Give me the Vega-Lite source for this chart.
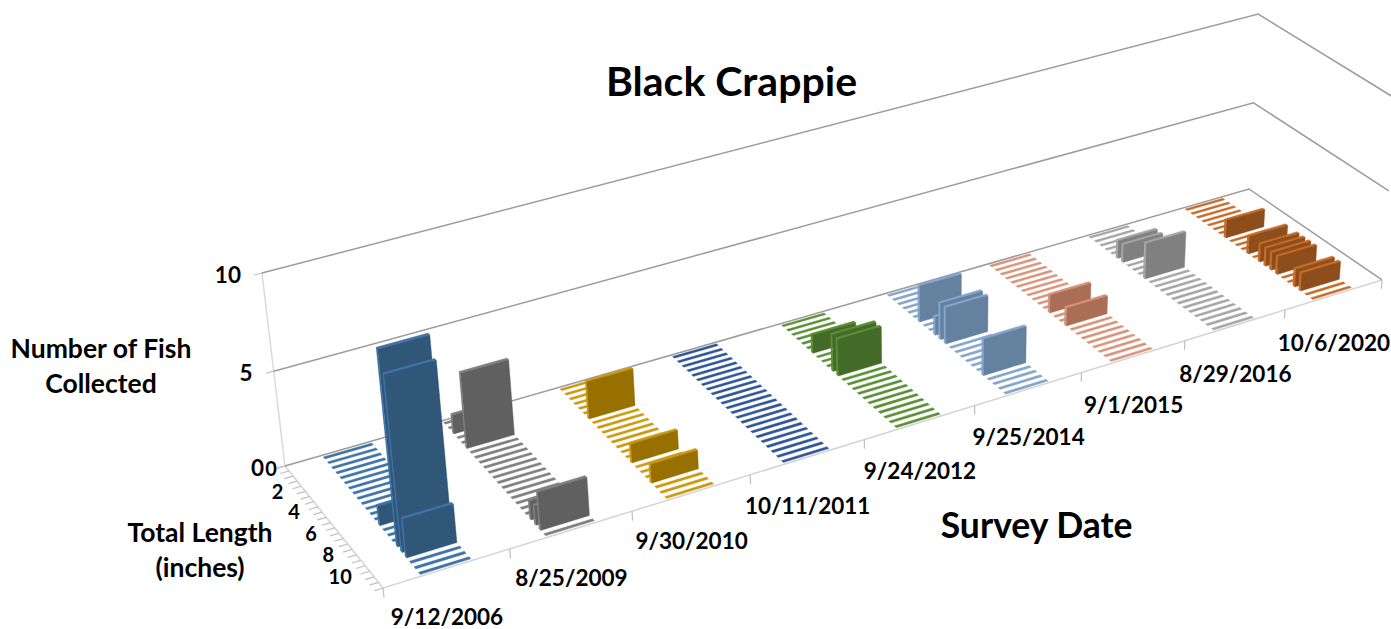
{
"$schema":"https://vega.github.io/schema/vega-lite/v6.json",
"width":1391,"height":629,"padding":0,"autosize":{"type":"none"},
"background":"white",
"view":{"stroke":null},
"title":{"text":"Black Crappie","font":"Lato","fontWeight":"bold","fontSize":41,"color":"#000000","anchor":"middle","frame":"group","dx":36,"offset":-105},
"datasets":{
"fish":[
{"date":"10/6/2020","survey":8,"length":0,"count":0},{"date":"10/6/2020","survey":8,"length":0.5,"count":0},{"date":"10/6/2020","survey":8,"length":1,"count":0},{"date":"10/6/2020","survey":8,"length":1.5,"count":0},{"date":"10/6/2020","survey":8,"length":2,"count":0},{"date":"10/6/2020","survey":8,"length":2.5,"count":0},{"date":"10/6/2020","survey":8,"length":3,"count":0},{"date":"10/6/2020","survey":8,"length":3.5,"count":1},{"date":"10/6/2020","survey":8,"length":4,"count":0},{"date":"10/6/2020","survey":8,"length":4.5,"count":0},{"date":"10/6/2020","survey":8,"length":5,"count":0},{"date":"10/6/2020","survey":8,"length":5.5,"count":1},{"date":"10/6/2020","survey":8,"length":6,"count":0},{"date":"10/6/2020","survey":8,"length":6.5,"count":1},{"date":"10/6/2020","survey":8,"length":7,"count":1},{"date":"10/6/2020","survey":8,"length":7.5,"count":1},{"date":"10/6/2020","survey":8,"length":8,"count":1},{"date":"10/6/2020","survey":8,"length":8.5,"count":0},{"date":"10/6/2020","survey":8,"length":9,"count":0},{"date":"10/6/2020","survey":8,"length":9.5,"count":1},{"date":"10/6/2020","survey":8,"length":10,"count":1},{"date":"10/6/2020","survey":8,"length":10.5,"count":0},{"date":"10/6/2020","survey":8,"length":11,"count":0},
{"date":"8/29/2016","survey":7,"length":0,"count":0},{"date":"8/29/2016","survey":7,"length":0.5,"count":0},{"date":"8/29/2016","survey":7,"length":1,"count":0},{"date":"8/29/2016","survey":7,"length":1.5,"count":0},{"date":"8/29/2016","survey":7,"length":2,"count":0},{"date":"8/29/2016","survey":7,"length":2.5,"count":1},{"date":"8/29/2016","survey":7,"length":3,"count":1},{"date":"8/29/2016","survey":7,"length":3.5,"count":0},{"date":"8/29/2016","survey":7,"length":4,"count":0},{"date":"8/29/2016","survey":7,"length":4.5,"count":0},{"date":"8/29/2016","survey":7,"length":5,"count":2},{"date":"8/29/2016","survey":7,"length":5.5,"count":0},{"date":"8/29/2016","survey":7,"length":6,"count":0},{"date":"8/29/2016","survey":7,"length":6.5,"count":0},{"date":"8/29/2016","survey":7,"length":7,"count":0},{"date":"8/29/2016","survey":7,"length":7.5,"count":0},{"date":"8/29/2016","survey":7,"length":8,"count":0},{"date":"8/29/2016","survey":7,"length":8.5,"count":0},{"date":"8/29/2016","survey":7,"length":9,"count":0},{"date":"8/29/2016","survey":7,"length":9.5,"count":0},{"date":"8/29/2016","survey":7,"length":10,"count":0},{"date":"8/29/2016","survey":7,"length":10.5,"count":0},{"date":"8/29/2016","survey":7,"length":11,"count":0},
{"date":"9/1/2015","survey":6,"length":0,"count":0},{"date":"9/1/2015","survey":6,"length":0.5,"count":0},{"date":"9/1/2015","survey":6,"length":1,"count":0},{"date":"9/1/2015","survey":6,"length":1.5,"count":0},{"date":"9/1/2015","survey":6,"length":2,"count":0},{"date":"9/1/2015","survey":6,"length":2.5,"count":0},{"date":"9/1/2015","survey":6,"length":3,"count":0},{"date":"9/1/2015","survey":6,"length":3.5,"count":0},{"date":"9/1/2015","survey":6,"length":4,"count":0},{"date":"9/1/2015","survey":6,"length":4.5,"count":0},{"date":"9/1/2015","survey":6,"length":5,"count":0},{"date":"9/1/2015","survey":6,"length":5.5,"count":1},{"date":"9/1/2015","survey":6,"length":6,"count":0},{"date":"9/1/2015","survey":6,"length":6.5,"count":0},{"date":"9/1/2015","survey":6,"length":7,"count":1},{"date":"9/1/2015","survey":6,"length":7.5,"count":0},{"date":"9/1/2015","survey":6,"length":8,"count":0},{"date":"9/1/2015","survey":6,"length":8.5,"count":0},{"date":"9/1/2015","survey":6,"length":9,"count":0},{"date":"9/1/2015","survey":6,"length":9.5,"count":0},{"date":"9/1/2015","survey":6,"length":10,"count":0},{"date":"9/1/2015","survey":6,"length":10.5,"count":0},{"date":"9/1/2015","survey":6,"length":11,"count":0},
{"date":"9/25/2014","survey":5,"length":0,"count":0},{"date":"9/25/2014","survey":5,"length":0.5,"count":0},{"date":"9/25/2014","survey":5,"length":1,"count":0},{"date":"9/25/2014","survey":5,"length":1.5,"count":0},{"date":"9/25/2014","survey":5,"length":2,"count":0},{"date":"9/25/2014","survey":5,"length":2.5,"count":0},{"date":"9/25/2014","survey":5,"length":3,"count":2},{"date":"9/25/2014","survey":5,"length":3.5,"count":0},{"date":"9/25/2014","survey":5,"length":4,"count":0},{"date":"9/25/2014","survey":5,"length":4.5,"count":1},{"date":"9/25/2014","survey":5,"length":5,"count":2},{"date":"9/25/2014","survey":5,"length":5.5,"count":2},{"date":"9/25/2014","survey":5,"length":6,"count":0},{"date":"9/25/2014","survey":5,"length":6.5,"count":0},{"date":"9/25/2014","survey":5,"length":7,"count":0},{"date":"9/25/2014","survey":5,"length":7.5,"count":0},{"date":"9/25/2014","survey":5,"length":8,"count":0},{"date":"9/25/2014","survey":5,"length":8.5,"count":0},{"date":"9/25/2014","survey":5,"length":9,"count":2},{"date":"9/25/2014","survey":5,"length":9.5,"count":0},{"date":"9/25/2014","survey":5,"length":10,"count":0},{"date":"9/25/2014","survey":5,"length":10.5,"count":0},{"date":"9/25/2014","survey":5,"length":11,"count":0},
{"date":"9/24/2012","survey":4,"length":0,"count":0},{"date":"9/24/2012","survey":4,"length":0.5,"count":0},{"date":"9/24/2012","survey":4,"length":1,"count":0},{"date":"9/24/2012","survey":4,"length":1.5,"count":0},{"date":"9/24/2012","survey":4,"length":2,"count":0},{"date":"9/24/2012","survey":4,"length":2.5,"count":0},{"date":"9/24/2012","survey":4,"length":3,"count":1},{"date":"9/24/2012","survey":4,"length":3.5,"count":0},{"date":"9/24/2012","survey":4,"length":4,"count":0},{"date":"9/24/2012","survey":4,"length":4.5,"count":0},{"date":"9/24/2012","survey":4,"length":5,"count":2},{"date":"9/24/2012","survey":4,"length":5.5,"count":2},{"date":"9/24/2012","survey":4,"length":6,"count":0},{"date":"9/24/2012","survey":4,"length":6.5,"count":0},{"date":"9/24/2012","survey":4,"length":7,"count":0},{"date":"9/24/2012","survey":4,"length":7.5,"count":0},{"date":"9/24/2012","survey":4,"length":8,"count":0},{"date":"9/24/2012","survey":4,"length":8.5,"count":0},{"date":"9/24/2012","survey":4,"length":9,"count":0},{"date":"9/24/2012","survey":4,"length":9.5,"count":0},{"date":"9/24/2012","survey":4,"length":10,"count":0},{"date":"9/24/2012","survey":4,"length":10.5,"count":0},{"date":"9/24/2012","survey":4,"length":11,"count":0},
{"date":"10/11/2011","survey":3,"length":0,"count":0},{"date":"10/11/2011","survey":3,"length":0.5,"count":0},{"date":"10/11/2011","survey":3,"length":1,"count":0},{"date":"10/11/2011","survey":3,"length":1.5,"count":0},{"date":"10/11/2011","survey":3,"length":2,"count":0},{"date":"10/11/2011","survey":3,"length":2.5,"count":0},{"date":"10/11/2011","survey":3,"length":3,"count":0},{"date":"10/11/2011","survey":3,"length":3.5,"count":0},{"date":"10/11/2011","survey":3,"length":4,"count":0},{"date":"10/11/2011","survey":3,"length":4.5,"count":0},{"date":"10/11/2011","survey":3,"length":5,"count":0},{"date":"10/11/2011","survey":3,"length":5.5,"count":0},{"date":"10/11/2011","survey":3,"length":6,"count":0},{"date":"10/11/2011","survey":3,"length":6.5,"count":0},{"date":"10/11/2011","survey":3,"length":7,"count":0},{"date":"10/11/2011","survey":3,"length":7.5,"count":0},{"date":"10/11/2011","survey":3,"length":8,"count":0},{"date":"10/11/2011","survey":3,"length":8.5,"count":0},{"date":"10/11/2011","survey":3,"length":9,"count":0},{"date":"10/11/2011","survey":3,"length":9.5,"count":0},{"date":"10/11/2011","survey":3,"length":10,"count":0},{"date":"10/11/2011","survey":3,"length":10.5,"count":0},{"date":"10/11/2011","survey":3,"length":11,"count":0},
{"date":"9/30/2010","survey":2,"length":0,"count":0},{"date":"9/30/2010","survey":2,"length":0.5,"count":0},{"date":"9/30/2010","survey":2,"length":1,"count":0},{"date":"9/30/2010","survey":2,"length":1.5,"count":0},{"date":"9/30/2010","survey":2,"length":2,"count":0},{"date":"9/30/2010","survey":2,"length":2.5,"count":0},{"date":"9/30/2010","survey":2,"length":3,"count":2},{"date":"9/30/2010","survey":2,"length":3.5,"count":0},{"date":"9/30/2010","survey":2,"length":4,"count":0},{"date":"9/30/2010","survey":2,"length":4.5,"count":0},{"date":"9/30/2010","survey":2,"length":5,"count":0},{"date":"9/30/2010","survey":2,"length":5.5,"count":0},{"date":"9/30/2010","survey":2,"length":6,"count":0},{"date":"9/30/2010","survey":2,"length":6.5,"count":0},{"date":"9/30/2010","survey":2,"length":7,"count":0},{"date":"9/30/2010","survey":2,"length":7.5,"count":1},{"date":"9/30/2010","survey":2,"length":8,"count":0},{"date":"9/30/2010","survey":2,"length":8.5,"count":0},{"date":"9/30/2010","survey":2,"length":9,"count":0},{"date":"9/30/2010","survey":2,"length":9.5,"count":1},{"date":"9/30/2010","survey":2,"length":10,"count":0},{"date":"9/30/2010","survey":2,"length":10.5,"count":0},{"date":"9/30/2010","survey":2,"length":11,"count":0},
{"date":"8/25/2009","survey":1,"length":0,"count":0},{"date":"8/25/2009","survey":1,"length":0.5,"count":0},{"date":"8/25/2009","survey":1,"length":1,"count":1},{"date":"8/25/2009","survey":1,"length":1.5,"count":0},{"date":"8/25/2009","survey":1,"length":2,"count":0},{"date":"8/25/2009","survey":1,"length":2.5,"count":4},{"date":"8/25/2009","survey":1,"length":3,"count":0},{"date":"8/25/2009","survey":1,"length":3.5,"count":0},{"date":"8/25/2009","survey":1,"length":4,"count":0},{"date":"8/25/2009","survey":1,"length":4.5,"count":0},{"date":"8/25/2009","survey":1,"length":5,"count":0},{"date":"8/25/2009","survey":1,"length":5.5,"count":0},{"date":"8/25/2009","survey":1,"length":6,"count":0},{"date":"8/25/2009","survey":1,"length":6.5,"count":0},{"date":"8/25/2009","survey":1,"length":7,"count":0},{"date":"8/25/2009","survey":1,"length":7.5,"count":0},{"date":"8/25/2009","survey":1,"length":8,"count":0},{"date":"8/25/2009","survey":1,"length":8.5,"count":0},{"date":"8/25/2009","survey":1,"length":9,"count":0},{"date":"8/25/2009","survey":1,"length":9.5,"count":1},{"date":"8/25/2009","survey":1,"length":10,"count":1},{"date":"8/25/2009","survey":1,"length":10.5,"count":2},{"date":"8/25/2009","survey":1,"length":11,"count":0},
{"date":"9/12/2006","survey":0,"length":0,"count":0},{"date":"9/12/2006","survey":0,"length":0.5,"count":0},{"date":"9/12/2006","survey":0,"length":1,"count":0},{"date":"9/12/2006","survey":0,"length":1.5,"count":0},{"date":"9/12/2006","survey":0,"length":2,"count":0},{"date":"9/12/2006","survey":0,"length":2.5,"count":0},{"date":"9/12/2006","survey":0,"length":3,"count":0},{"date":"9/12/2006","survey":0,"length":3.5,"count":0},{"date":"9/12/2006","survey":0,"length":4,"count":0},{"date":"9/12/2006","survey":0,"length":4.5,"count":0},{"date":"9/12/2006","survey":0,"length":5,"count":0},{"date":"9/12/2006","survey":0,"length":5.5,"count":0},{"date":"9/12/2006","survey":0,"length":6,"count":0},{"date":"9/12/2006","survey":0,"length":6.5,"count":1},{"date":"9/12/2006","survey":0,"length":7,"count":0},{"date":"9/12/2006","survey":0,"length":7.5,"count":0},{"date":"9/12/2006","survey":0,"length":8,"count":0},{"date":"9/12/2006","survey":0,"length":8.5,"count":10},{"date":"9/12/2006","survey":0,"length":9,"count":9},{"date":"9/12/2006","survey":0,"length":9.5,"count":2},{"date":"9/12/2006","survey":0,"length":10,"count":0},{"date":"9/12/2006","survey":0,"length":10.5,"count":0},{"date":"9/12/2006","survey":0,"length":11,"count":0}
],
"frame":[
{"path":"floor left","seq":0,"survey":0,"slot":0,"fish":0},{"path":"floor left","seq":1,"survey":0,"slot":23,"fish":0},{"path":"floor left","seq":2,"survey":9,"slot":23,"fish":0},
{"path":"wall left","seq":0,"survey":0,"slot":0,"fish":0},{"path":"wall left","seq":1,"survey":0,"slot":0,"fish":10},
{"path":"level 0","seq":0,"survey":0,"slot":0,"fish":0},{"path":"level 0","seq":1,"survey":9,"slot":0,"fish":0},{"path":"level 0","seq":2,"survey":9,"slot":23,"fish":0},
{"path":"level 5","seq":0,"survey":0,"slot":0,"fish":5},{"path":"level 5","seq":1,"survey":9,"slot":0,"fish":5},{"path":"level 5","seq":2,"survey":9,"slot":23,"fish":5},
{"path":"level 10","seq":0,"survey":0,"slot":0,"fish":10},{"path":"level 10","seq":1,"survey":9,"slot":0,"fish":10},{"path":"level 10","seq":2,"survey":9,"slot":23,"fish":10}
],
"ticks":[
{"axis":"survey","at":0},{"axis":"survey","at":1},{"axis":"survey","at":2},{"axis":"survey","at":3},{"axis":"survey","at":4},{"axis":"survey","at":5},{"axis":"survey","at":6},{"axis":"survey","at":7},{"axis":"survey","at":8},{"axis":"survey","at":9},
{"axis":"fish","at":0},{"axis":"fish","at":5},{"axis":"fish","at":10},
{"axis":"slot","at":0},{"axis":"slot","at":1},{"axis":"slot","at":2},{"axis":"slot","at":3},{"axis":"slot","at":4},{"axis":"slot","at":5},{"axis":"slot","at":6},{"axis":"slot","at":7},{"axis":"slot","at":8},{"axis":"slot","at":9},{"axis":"slot","at":10},{"axis":"slot","at":11},{"axis":"slot","at":12},{"axis":"slot","at":13},{"axis":"slot","at":14},{"axis":"slot","at":15},{"axis":"slot","at":16},{"axis":"slot","at":17},{"axis":"slot","at":18},{"axis":"slot","at":19},{"axis":"slot","at":20},{"axis":"slot","at":21},{"axis":"slot","at":22},{"axis":"slot","at":23}
],
"dates":[
{"label":"9/12/2006","survey":0.5},{"label":"8/25/2009","survey":1.5},{"label":"9/30/2010","survey":2.5},{"label":"10/11/2011","survey":3.5},{"label":"9/24/2012","survey":4.5},{"label":"9/25/2014","survey":5.5},{"label":"9/1/2015","survey":6.5},{"label":"8/29/2016","survey":7.5},{"label":"10/6/2020","survey":8.5}
],
"lengths":[
{"label":"0","survey":0.08,"slot":0.5},{"label":"2","survey":0,"slot":4.5},{"label":"4","survey":0,"slot":8.5},{"label":"6","survey":0,"slot":12.5},{"label":"8","survey":0,"slot":16.5},{"label":"10","survey":0,"slot":20.5}
],
"levels":[{"label":"0","fish":0},{"label":"5","fish":5},{"label":"10","fish":10}],
"titles":[
{"label":"Total Length","survey":-0.889,"slot":6.84,"fish":0},
{"label":"(inches)","survey":-1.051,"slot":12.14,"fish":0},
{"label":"Number of Fish","survey":-1.266,"slot":0,"fish":8.32},
{"label":"Collected","survey":-1.304,"slot":0,"fish":6.63}
],
"dateTitle":[{"label":"Survey Date","survey":4.49,"slot":43.6,"fish":0}]
},
"encoding":{
"x":{"field":"sx","type":"quantitative","axis":null,"scale":{"domain":[0,1391],"nice":false,"zero":false}},
"y":{"field":"sy","type":"quantitative","axis":null,"scale":{"domain":[629,0],"nice":false,"zero":false}}
},
"layer":[
{
"data":{"name":"frame"},
"transform":[
{"calculate":"datum.survey/9","as":"U"},{"calculate":"datum.slot/23","as":"V"},{"calculate":"datum.fish/10","as":"Z"},
{"calculate":"1+0.15309*datum.U-0.05542*datum.V-0.0338*datum.Z","as":"w"},
{"calculate":"(1155.2*datum.U+76.8*datum.V+285-31.9*datum.Z)/datum.w","as":"sx"},
{"calculate":"(-248.1*datum.U+89.4*datum.V+466-202.2*datum.Z)/datum.w","as":"sy"}
],
"mark":{"type":"line","strokeWidth":1.5,"clip":true},
"encoding":{
"color":{"field":"path","type":"nominal","legend":null,"scale":{"domain":["floor left","wall left","level 0","level 5","level 10"],"range":["#D4D4D4","#DADADA","#9C9C9C","#9C9C9C","#9C9C9C"]}},
"order":{"field":"seq","type":"quantitative"}
}
},
{
"data":{"name":"ticks"},
"transform":[
{"calculate":"[0,1]","as":"end"},{"flatten":["end"]},
{"calculate":"datum.axis=='survey'?datum.at:datum.axis=='slot'?-0.07*datum.end:-0.06*datum.end","as":"survey"},
{"calculate":"datum.axis=='slot'?datum.at:datum.axis=='survey'?23:0","as":"slot"},
{"calculate":"datum.axis=='fish'?datum.at:datum.axis=='survey'?-0.5*datum.end:0","as":"fish"},
{"calculate":"datum.axis+datum.at","as":"tick"},
{"calculate":"datum.survey/9","as":"U"},{"calculate":"datum.slot/23","as":"V"},{"calculate":"datum.fish/10","as":"Z"},
{"calculate":"1+0.15309*datum.U-0.05542*datum.V-0.0338*datum.Z","as":"w"},
{"calculate":"(1155.2*datum.U+76.8*datum.V+285-31.9*datum.Z)/datum.w","as":"sx"},
{"calculate":"(-248.1*datum.U+89.4*datum.V+466-202.2*datum.Z)/datum.w","as":"sy"}
],
"mark":{"type":"line","stroke":"#BFBFBF","strokeWidth":1.2},
"encoding":{"detail":{"field":"tick","type":"nominal"},"order":{"field":"end","type":"quantitative"}}
},
{
"data":{"name":"fish"},
"transform":[
{"calculate":"[0,1,2,3,4,5,6,7,8,9,10,11]","as":"vertex"},{"flatten":["vertex"]},
{"calculate":"floor(datum.vertex/4)","as":"face"},{"calculate":"datum.vertex%4","as":"corner"},
{"filter":"datum.count>0||datum.face==1"},
{"calculate":"datum.length*2","as":"slot"},
{"calculate":"(datum.face==0||datum.corner==0||datum.corner==3?datum.survey+0.3:datum.survey+0.7)/9","as":"U"},
{"calculate":"(datum.face==2?datum.slot+0.7:datum.face==0?(datum.corner==0||datum.corner==3?datum.slot+0.32:datum.slot+0.7):(datum.corner<2?datum.slot+0.32:datum.slot+0.7))/23","as":"V"},
{"calculate":"(datum.face==1?datum.count:datum.corner<2?0:datum.count)/10","as":"Z"},
{"calculate":"1+0.15309*datum.U-0.05542*datum.V-0.0338*datum.Z","as":"w"},
{"calculate":"(1155.2*datum.U+76.8*datum.V+285-31.9*datum.Z)/datum.w","as":"sx"},
{"calculate":"(-248.1*datum.U+89.4*datum.V+466-202.2*datum.Z)/datum.w","as":"sy"},
{"calculate":"datum.date+(datum.face==2?' front':' edge')","as":"shade"},
{"calculate":"datum.survey+'-'+datum.length+'-'+datum.face","as":"facet"}
],
"mark":{"type":"line","strokeWidth":0.4,"strokeJoin":"round"},
"encoding":{
"detail":{"field":"facet","type":"nominal"},
"order":{"field":"corner","type":"quantitative"},
"fill":{"field":"shade","type":"nominal","legend":null,"scale":{
"domain":["9/12/2006 front","9/12/2006 edge","8/25/2009 front","8/25/2009 edge","9/30/2010 front","9/30/2010 edge","10/11/2011 front","10/11/2011 edge","9/24/2012 front","9/24/2012 edge","9/25/2014 front","9/25/2014 edge","9/1/2015 front","9/1/2015 edge","8/29/2016 front","8/29/2016 edge","10/6/2020 front","10/6/2020 edge"],
"range":["#305678","#3F74A8","#606060","#808080","#987000","#CC9A10","#2A4A80","#2F5597","#436A26","#5B8F35","#64829F","#85A5CC","#A96E55","#D8937A","#808080","#A6A6A6","#8E4E1B","#C76C28"]}},
"stroke":{"field":"shade","type":"nominal","legend":null,"scale":{
"domain":["9/12/2006 front","9/12/2006 edge","8/25/2009 front","8/25/2009 edge","9/30/2010 front","9/30/2010 edge","10/11/2011 front","10/11/2011 edge","9/24/2012 front","9/24/2012 edge","9/25/2014 front","9/25/2014 edge","9/1/2015 front","9/1/2015 edge","8/29/2016 front","8/29/2016 edge","10/6/2020 front","10/6/2020 edge"],
"range":["#305678","#3F74A8","#606060","#808080","#987000","#CC9A10","#2A4A80","#2F5597","#436A26","#5B8F35","#64829F","#85A5CC","#A96E55","#D8937A","#808080","#A6A6A6","#8E4E1B","#C76C28"]}}
}
},
{
"data":{"name":"dates"},
"transform":[
{"calculate":"datum.survey/9","as":"U"},{"calculate":"1","as":"V"},
{"calculate":"1+0.15309*datum.U-0.05542*datum.V","as":"w"},
{"calculate":"(1155.2*datum.U+76.8*datum.V+285)/datum.w","as":"sx"},
{"calculate":"(-248.1*datum.U+89.4*datum.V+466)/datum.w","as":"sy"}
],
"mark":{"type":"text","font":"Lato","fontWeight":"bold","fontSize":22.5,"align":"center","baseline":"middle","dy":49.5,"color":"#000000"},
"encoding":{"text":{"field":"label","type":"nominal"}}
},
{
"data":{"name":"lengths"},
"transform":[
{"calculate":"datum.survey/9","as":"U"},{"calculate":"datum.slot/23","as":"V"},
{"calculate":"1+0.15309*datum.U-0.05542*datum.V","as":"w"},
{"calculate":"(1155.2*datum.U+76.8*datum.V+285)/datum.w","as":"sx"},
{"calculate":"(-248.1*datum.U+89.4*datum.V+466)/datum.w","as":"sy"}
],
"mark":{"type":"text","font":"Lato","fontWeight":"bold","fontSize":20,"align":"right","baseline":"middle","dx":-20,"dy":4,"color":"#000000"},
"encoding":{"text":{"field":"label","type":"nominal"}}
},
{
"data":{"name":"levels"},
"transform":[
{"calculate":"datum.fish/10","as":"Z"},
{"calculate":"1-0.0338*datum.Z","as":"w"},
{"calculate":"(285-31.9*datum.Z)/datum.w","as":"sx"},
{"calculate":"(466-202.2*datum.Z)/datum.w","as":"sy"}
],
"mark":{"type":"text","font":"Lato","fontWeight":"bold","fontSize":22.5,"align":"right","baseline":"middle","dx":-21,"dy":3,"color":"#000000"},
"encoding":{"text":{"field":"label","type":"nominal"}}
},
{
"data":{"name":"titles"},
"transform":[
{"calculate":"datum.survey/9","as":"U"},{"calculate":"datum.slot/23","as":"V"},{"calculate":"datum.fish/10","as":"Z"},
{"calculate":"1+0.15309*datum.U-0.05542*datum.V-0.0338*datum.Z","as":"w"},
{"calculate":"(1155.2*datum.U+76.8*datum.V+285-31.9*datum.Z)/datum.w","as":"sx"},
{"calculate":"(-248.1*datum.U+89.4*datum.V+466-202.2*datum.Z)/datum.w","as":"sy"}
],
"mark":{"type":"text","font":"Lato","fontWeight":"bold","fontSize":26.5,"align":"center","baseline":"middle","color":"#000000"},
"encoding":{"text":{"field":"label","type":"nominal"}}
},
{
"data":{"name":"dateTitle"},
"transform":[
{"calculate":"datum.survey/9","as":"U"},{"calculate":"datum.slot/23","as":"V"},
{"calculate":"1+0.15309*datum.U-0.05542*datum.V","as":"w"},
{"calculate":"(1155.2*datum.U+76.8*datum.V+285)/datum.w","as":"sx"},
{"calculate":"(-248.1*datum.U+89.4*datum.V+466)/datum.w","as":"sy"}
],
"mark":{"type":"text","font":"Lato","fontWeight":"bold","fontSize":35.5,"align":"center","baseline":"middle","color":"#000000"},
"encoding":{"text":{"field":"label","type":"nominal"}}
}
]
}
